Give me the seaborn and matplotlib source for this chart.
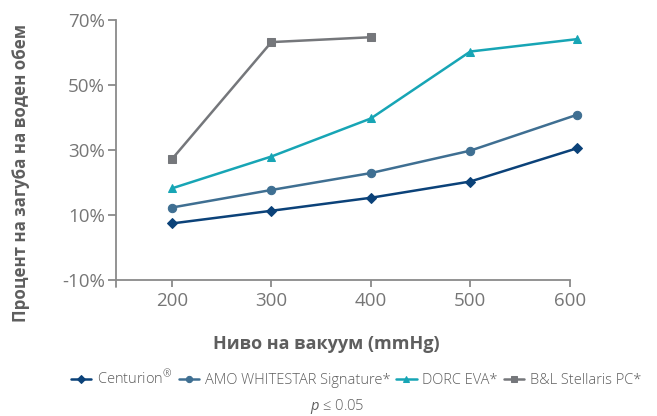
import matplotlib
matplotlib.use("Agg")
import matplotlib.pyplot as plt
import seaborn as sns
import pandas as pd

sns.set_theme(style="white")
plt.rcParams['font.family'] = ['Open Sans', 'DejaVu Sans']
plt.rcParams['mathtext.fontset'] = 'custom'
plt.rcParams['mathtext.it'] = 'Open Sans:italic'
plt.rcParams['mathtext.rm'] = 'Open Sans:light'

# Data
vacuum = [200, 300, 400, 500, 607]
centurion = [7.4, 11.3, 15.3, 20.3, 30.5]
amo = [12.3, 17.7, 22.9, 29.8, 40.8]
dorc = [18.2, 28.0, 39.7, 60.3, 64.1]
bl_vacuum = [200, 300, 400]
bl = [27.2, 63.2, 64.7]

series_names = ["Centurion$^{®}$", "AMO WHITESTAR Signature*", "DORC EVA*", "B&L Stellaris PC*"]
yticks = [-10, 10, 30, 50, 70]
xticks = [200, 300, 400, 500, 600]

colors = ["#0b4279", "#3f6f92", "#17a5b5", "#75777b"]
markers = ["D", "o", "^", "s"]
msizes = [5.2, 6.0, 6.0, 6.0]

fig = plt.figure(figsize=(6.57, 4.16), dpi=100)
ax = fig.add_axes([115.7/657, 1-280/416, (569.7-115.7)/657, 260/416])

xs = [vacuum, vacuum, vacuum, bl_vacuum]
ys = [centurion, amo, dorc, bl]
for name, x, y, c, m, ms in zip(series_names, xs, ys, colors, markers, msizes):
    df = pd.DataFrame({"x": x, "y": y})
    sns.lineplot(data=df, x="x", y="y", ax=ax, color=c, marker=m, markersize=ms,
                 markeredgecolor=c, linewidth=1.8, label=name, clip_on=False)

ax.set_xlim(143.4, 600)
ax.set_ylim(-10, 70)
ax.set_xticks(xticks)
ax.set_xticklabels([str(t) for t in xticks])
ax.set_yticks(yticks)
ax.set_yticklabels([f"{t}%" for t in yticks])
ax.set_xlabel("")
ax.set_ylabel("")

for s in ["top", "right"]:
    ax.spines[s].set_visible(False)
for s in ["left", "bottom"]:
    ax.spines[s].set_color("#8a8a8a")
    ax.spines[s].set_linewidth(1.3)
ax.tick_params(axis="both", which="major", direction="out", bottom=True, left=True,
               width=1.3, color="#8a8a8a", labelcolor="#767676", labelsize=13.5)
ax.tick_params(axis="x", length=5, pad=3.5)
ax.tick_params(axis="y", length=5.8, pad=2)

# left spine extends below axis
ax.plot([143.4, 143.4], [-10, -12.15], color="#8a8a8a", lw=1.3, clip_on=False)

ax.get_legend().remove()

fig.text(21/657, 1-173/416, "Процент на загуба на воден обем", rotation=90,
         ha="center", va="center", fontsize=12.2, fontweight="bold", color="#5e5e5e")
fig.text(326/657, 1-344/416, "Ниво на вакуум (mmHg)", ha="center", va="center",
         fontsize=13, fontweight="bold", color="#5e5e5e")

handles, labels = ax.get_legend_handles_labels()
leg = fig.legend(handles, labels, loc="center", bbox_to_anchor=(356/657, 1-378/416),
                 ncol=4, frameon=False, handlelength=1.4, handletextpad=0.4,
                 columnspacing=0.4, labelcolor="#5e5e5e", markerscale=0.75,
                 borderpad=0, prop={"size": 10.5, "weight": "light"})

fig.text(337/657, 1-407/416, r"$p$ ≤ 0.05", ha="center", va="center",
         fontsize=10.5, color="#5e5e5e", fontweight="light")

fig.savefig("out.png", dpi=100)
